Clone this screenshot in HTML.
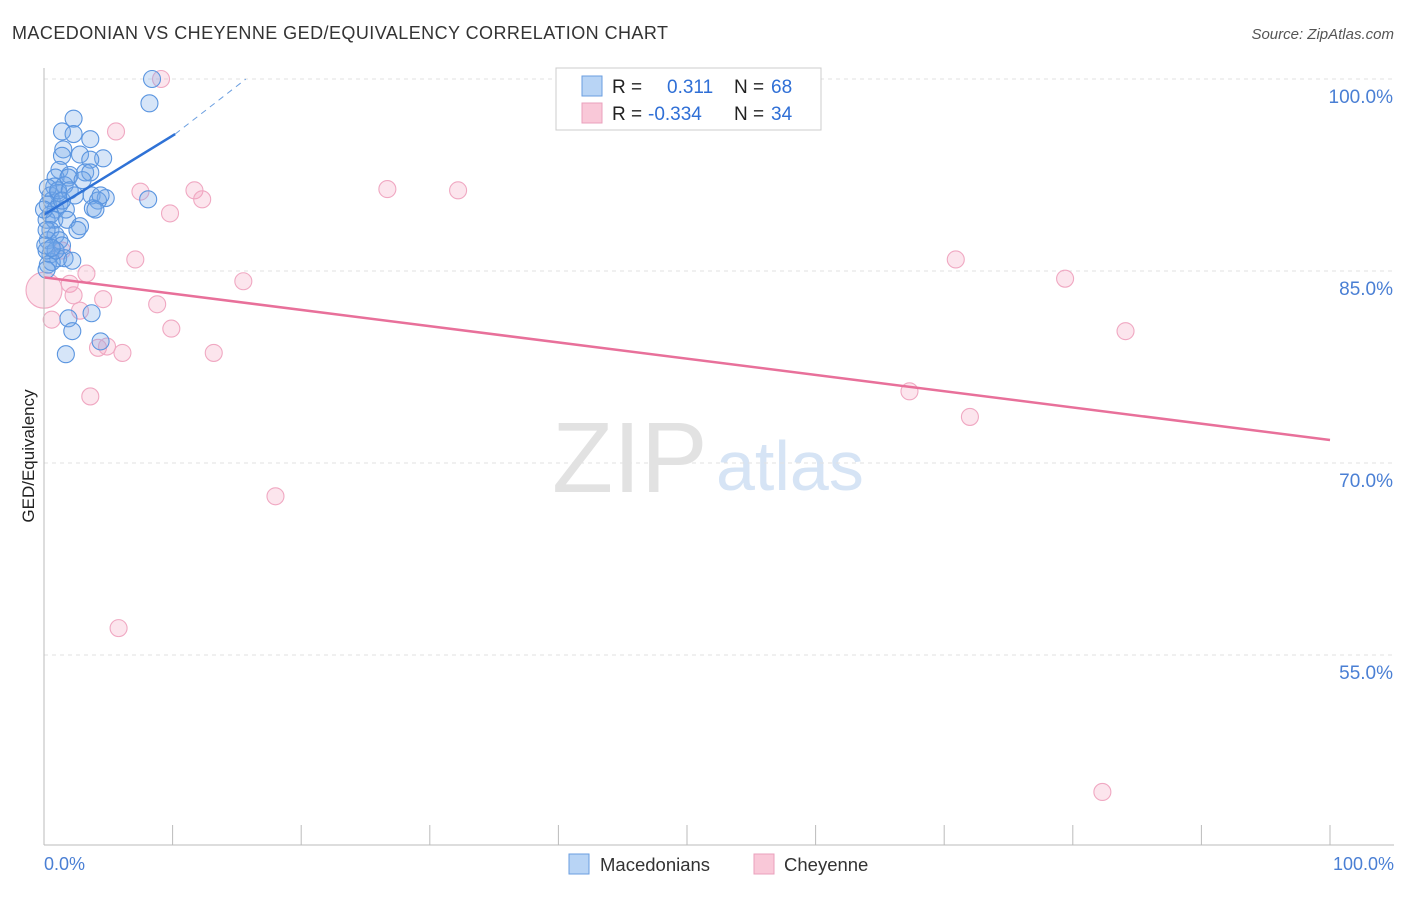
<!DOCTYPE html>
<html><head><meta charset="utf-8"><style>
body{margin:0;background:#fff;font-family:"Liberation Sans",sans-serif}
svg text{font-family:"Liberation Sans",sans-serif}
</style></head><body>
<svg id="c" width="1406" height="892">
<text x="12" y="39" font-size="18" fill="#333" textLength="656">MACEDONIAN VS CHEYENNE GED/EQUIVALENCY CORRELATION CHART</text>
<text x="1394" y="39" font-size="15" fill="#555" font-style="italic" text-anchor="end">Source: ZipAtlas.com</text>
<text x="0" y="0" transform="translate(34,456) rotate(-90)" font-size="17" fill="#222" text-anchor="middle">GED/Equivalency</text>
<text x="552" y="492" font-size="100" fill="#e2e2e2" font-family="Liberation Serif">ZIP</text>
<text x="716" y="490" font-size="70" fill="#d6e4f5">atlas</text>
<g id="grid"></g><g id="pts"></g><g id="trend"></g>
<line x1="44" y1="68" x2="44" y2="845" stroke="#bbb"/>
<line x1="44" y1="845" x2="1394" y2="845" stroke="#bbb"/>
<text x="44" y="870" font-size="18" fill="#4a7fd4">0.0%</text>
<text x="1394" y="870" font-size="18" fill="#4a7fd4" text-anchor="end">100.0%</text>
<g>
<rect x="556" y="68" width="265" height="62" fill="#fff" stroke="#ccc"/>
<rect x="582" y="76" width="20" height="20" fill="#b8d4f5" stroke="#6a9ee0"/>
<rect x="582" y="103" width="20" height="20" fill="#f9c8d8" stroke="#eaa0bc"/>
<text x="612" y="93" font-size="19" fill="#222">R = </text><text x="667" y="93" font-size="19" fill="#2f6fd6">0.311</text>
<text x="734" y="93" font-size="19" fill="#222">N = </text><text x="771" y="93" font-size="19" fill="#2f6fd6">68</text>
<text x="612" y="120" font-size="19" fill="#222">R = </text><text x="648" y="120" font-size="19" fill="#2f6fd6">-0.334</text>
<text x="734" y="120" font-size="19" fill="#222">N = </text><text x="771" y="120" font-size="19" fill="#2f6fd6">34</text>
</g>
<g>
<rect x="569" y="854" width="20" height="20" fill="#b8d4f5" stroke="#6a9ee0"/>
<text x="600" y="871" font-size="18.5" fill="#333">Macedonians</text>
<rect x="754" y="854" width="20" height="20" fill="#f9c8d8" stroke="#eaa0bc"/>
<text x="784" y="871" font-size="18.5" fill="#333">Cheyenne</text>
</g>
</svg>
<script>
const yTicks=[100,85,70,55];
const yTickLabels=["100.0%","85.0%","70.0%","55.0%"];
const blueX=[8.4,8.2,2.3,1.4,2.3,3.6,1.5,2.8,4.6,1.4,3.6,1.2,2.0,3.2,3.6,0.9,1.9,1.6,0.8,0.5,1.1,3.7,4.8,4.2,8.1,3.8,0.6,1.2,0.3,0.9,1.7,0.5,0.2,0.8,1.8,2.8,2.6,0.5,0.9,0.3,1.2,1.4,0.5,1.1,1.6,2.2,0.3,0.6,0.2,3.7,1.9,2.2,4.4,1.7,0.2,0.9,0.3,1.1,2.0,0,0.2,0.1,0.6,1.4,2.4,3.0,4.4,4.0];
const blueY=[100,98.1,96.9,95.9,95.7,95.3,94.5,94.1,93.8,94.0,93.7,92.9,92.5,92.7,92.7,92.3,92.3,91.7,91.6,90.9,91.1,90.9,90.7,90.5,90.6,89.9,90.5,90.2,90.2,89.8,89.8,89.4,89.0,89.0,89.0,88.5,88.2,88.2,87.8,87.4,87.4,87.0,86.3,86.0,86.0,85.8,85.5,85.7,85.1,81.7,81.3,80.3,79.5,78.5,86.6,86.6,91.5,91.3,91.3,89.8,88.2,87.0,86.8,90.5,90.9,92.1,90.9,89.8];
const pinkX=[9.1,5.6,7.5,11.7,12.3,9.8,26.7,32.2,7.1,15.5,70.9,79.4,3.3,2.0,2.3,4.6,8.8,2.8,0.6,9.9,84.1,4.2,4.9,6.1,13.2,67.3,72.0,3.6,18.0,5.8,82.3,1.4,0];
const pinkY=[100,95.9,91.2,91.3,90.6,89.5,91.4,91.3,85.9,84.2,85.9,84.4,84.8,84.0,83.1,82.8,82.4,81.9,81.2,80.5,80.3,79.0,79.1,78.6,78.6,75.6,73.6,75.2,67.4,57.1,44.3,86.6,83.5];
const blueTrend=[[0,89.4],[10.2,95.7]];
const blueTrendDash=[[10.2,95.7],[15.7,100]];
const pinkTrend=[[0,84.5],[100,71.8]];
const X=v=>44+v*12.86, Y=v=>79+(100-v)*12.8;
const NS="http://www.w3.org/2000/svg";
function mk(t,a,p){const e=document.createElementNS(NS,t);for(const k in a)e.setAttribute(k,a[k]);document.getElementById(p).appendChild(e);return e;}
yTicks.forEach((t,i)=>{
 const l=mk('line',{x1:44,x2:1394,y1:Y(t),y2:Y(t),stroke:'#e2e2e2','stroke-dasharray':'4,4'},'grid');
 
 
 const tx=mk('text',{x:1393,y:Y(t)+24,'font-size':19,fill:'#4a7fd4','text-anchor':'end'},'grid');
 tx.textContent=yTickLabels[i];
 
 
});
for(let i=1;i<=10;i++){
 const l=mk('line',{x1:X(i*10),x2:X(i*10),y1:825,y2:845,stroke:'#bbb'},'grid');
 
 
}
pinkX.forEach((x,i)=>{
 const r=i==pinkX.length-1?18:8.5;
 const c=mk('circle',{cx:X(x),cy:Y(pinkY[i]),r:r,fill:'rgba(244,160,190,0.28)',stroke:'#f0a8c2','stroke-width':1.1},'pts');
 
 
});
blueX.forEach((x,i)=>{
 const c=mk('circle',{cx:X(x),cy:Y(blueY[i]),r:8.5,fill:'rgba(120,170,232,0.3)',stroke:'#5a95e0','stroke-width':1.1},'pts');
 
 
});
let t=mk('line',{x1:X(blueTrend[0][0]),y1:Y(blueTrend[0][1]),x2:X(blueTrend[1][0]),y2:Y(blueTrend[1][1]),stroke:'#2f72d6','stroke-width':2.5},'trend');


t=mk('line',{x1:X(blueTrendDash[0][0]),y1:Y(blueTrendDash[0][1]),x2:X(blueTrendDash[1][0]),y2:Y(blueTrendDash[1][1]),stroke:'#6a9ee0','stroke-width':1,'stroke-dasharray':'6,5'},'trend');


t=mk('line',{x1:X(pinkTrend[0][0]),y1:Y(pinkTrend[0][1]),x2:X(pinkTrend[1][0]),y2:Y(pinkTrend[1][1]),stroke:'#e8709a','stroke-width':2.5},'trend');


</script>
</body></html>
